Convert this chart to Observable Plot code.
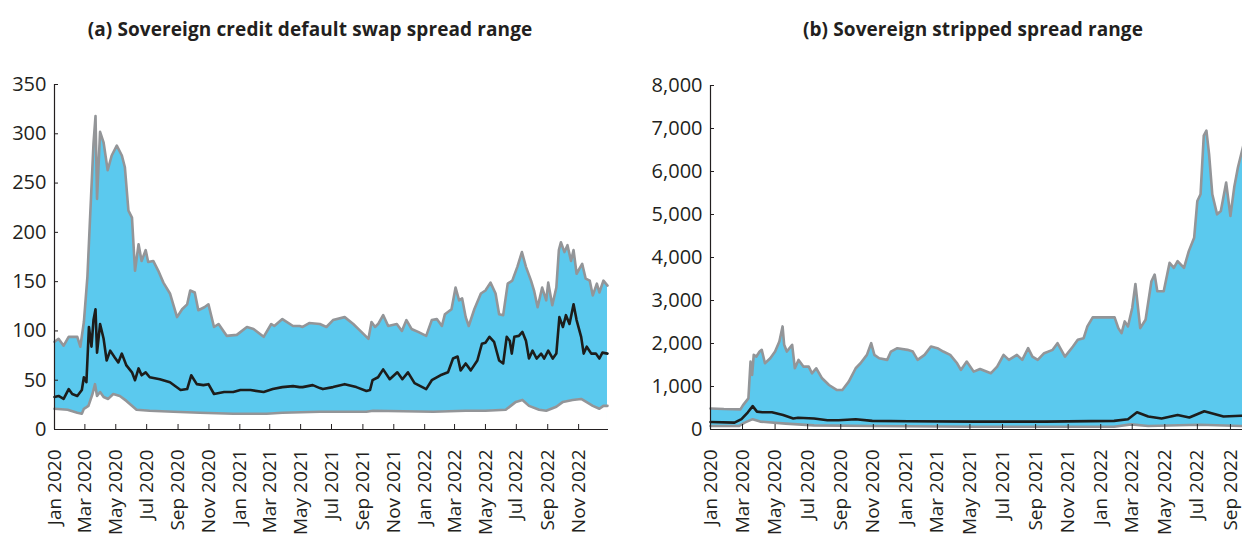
<!DOCTYPE html>
<html><head><meta charset="utf-8">
<script src="https://cdn.jsdelivr.net/npm/d3@7"></script>
<script src="https://cdn.jsdelivr.net/npm/@observablehq/plot@0.6"></script>
<style>
html,body{margin:0;padding:0;background:#fff;}
body{width:1242px;height:535px;overflow:hidden;position:relative;font-family:"Open Sans",sans-serif;}
.title{position:absolute;top:16px;font-weight:700;font-size:19px;color:#231f20;white-space:nowrap;transform:translateX(-50%);letter-spacing:0.1px;}
#a{position:absolute;left:0;top:50px;width:620px;}
#b{position:absolute;left:640px;top:50px;width:664px;}
svg{max-width:none !important;}
</style></head><body>
<div class="title" style="left:310px">(a) Sovereign credit default swap spread range</div>
<div class="title" style="left:973px">(b) Sovereign stripped spread range</div>
<div id="a"></div><div id="b"></div>
<script>
const xTickDates = ["2020-01-01","2020-03-01","2020-05-01","2020-07-01","2020-09-01","2020-11-01",
  "2021-01-01","2021-03-01","2021-05-01","2021-07-01","2021-09-01","2021-11-01",
  "2022-01-01","2022-03-01","2022-05-01","2022-07-01","2022-09-01","2022-11-01"];
const xTickDatesB = xTickDates.slice(0, 17); // panel (b) is cut at the page edge after Sep 2022
const cdsTicks = [0,50,100,150,200,250,300,350];
const strippedTicks = [0,1000,2000,3000,4000,5000,6000,7000,8000];

const cdsMax = [["2020-01-01",89],["2020-01-09",92],["2020-01-19",85],["2020-01-29",94],["2020-02-15",94],["2020-02-21",84],["2020-02-28",109],["2020-03-06",155],["2020-03-11",212],["2020-03-18",290],["2020-03-22",318],["2020-03-25",234],["2020-03-31",302],["2020-04-07",291],["2020-04-15",263],["2020-04-23",278],["2020-05-03",288],["2020-05-13",278],["2020-05-19",266],["2020-05-26",222],["2020-06-02",215],["2020-06-08",161],["2020-06-15",188],["2020-06-21",171],["2020-06-29",182],["2020-07-04",170],["2020-07-14",171],["2020-07-24",161],["2020-08-03",149],["2020-08-16",138],["2020-08-30",114],["2020-09-09",122],["2020-09-19",127],["2020-09-25",141],["2020-10-04",139],["2020-10-11",121],["2020-10-23",124],["2020-10-31",127],["2020-11-11",104],["2020-11-20",107],["2020-12-06",95],["2020-12-26",96],["2021-01-15",104],["2021-01-28",102],["2021-02-17",94],["2021-03-04",107],["2021-03-10",105],["2021-03-26",112],["2021-04-16",105],["2021-04-29",105],["2021-05-05",104],["2021-05-18",108],["2021-06-08",107],["2021-06-21",104],["2021-07-04",111],["2021-07-27",114],["2021-08-13",107],["2021-08-29",99],["2021-09-12",92],["2021-09-18",109],["2021-09-25",104],["2021-10-01",107],["2021-10-11",116],["2021-10-21",105],["2021-11-07",107],["2021-11-17",100],["2021-11-26",111],["2021-12-06",102],["2021-12-19",99],["2022-01-04",95],["2022-01-15",111],["2022-01-25",112],["2022-02-04",105],["2022-02-10",117],["2022-02-23",122],["2022-03-03",144],["2022-03-10",131],["2022-03-16",133],["2022-03-23",114],["2022-03-29",105],["2022-04-09",122],["2022-04-22",138],["2022-05-01",141],["2022-05-11",149],["2022-05-21",138],["2022-05-28",117],["2022-06-05",116],["2022-06-14",148],["2022-06-23",151],["2022-07-03",165],["2022-07-12",180],["2022-07-20",165],["2022-07-30",151],["2022-08-05",141],["2022-08-12",124],["2022-08-21",144],["2022-08-29",131],["2022-09-02",149],["2022-09-10",126],["2022-09-18",144],["2022-09-23",182],["2022-09-27",190],["2022-10-04",180],["2022-10-10",187],["2022-10-17",171],["2022-10-22",182],["2022-10-28",158],["2022-11-08",168],["2022-11-15",153],["2022-11-23",151],["2022-11-29",136],["2022-12-07",148],["2022-12-12",139],["2022-12-20",151],["2022-12-28",146]];

const cdsMedian = [["2020-01-01",33],["2020-01-09",34],["2020-01-19",31],["2020-01-29",41],["2020-02-05",36],["2020-02-15",34],["2020-02-24",40],["2020-02-28",53],["2020-03-04",48],["2020-03-09",104],["2020-03-14",84],["2020-03-18",111],["2020-03-22",122],["2020-03-25",78],["2020-03-31",107],["2020-04-07",92],["2020-04-13",70],["2020-04-20",80],["2020-04-29",73],["2020-05-06",68],["2020-05-13",77],["2020-05-22",65],["2020-06-02",58],["2020-06-08",50],["2020-06-15",62],["2020-06-21",55],["2020-06-29",58],["2020-07-07",53],["2020-07-27",51],["2020-08-16",48],["2020-09-06",40],["2020-09-19",41],["2020-09-27",55],["2020-10-08",46],["2020-10-21",45],["2020-10-31",46],["2020-11-11",36],["2020-12-01",38],["2020-12-19",38],["2021-01-02",40],["2021-01-22",40],["2021-02-17",38],["2021-03-07",41],["2021-03-26",43],["2021-04-16",44],["2021-04-29",43],["2021-05-05",43],["2021-05-25",45],["2021-06-08",42],["2021-06-14",41],["2021-07-04",43],["2021-07-27",46],["2021-08-19",43],["2021-09-08",39],["2021-09-15",40],["2021-09-20",50],["2021-10-01",53],["2021-10-11",61],["2021-10-24",51],["2021-11-08",58],["2021-11-18",51],["2021-11-29",58],["2021-12-12",47],["2022-01-04",41],["2022-01-15",50],["2022-02-01",55],["2022-02-16",58],["2022-02-26",72],["2022-03-07",74],["2022-03-13",60],["2022-03-23",67],["2022-04-02",60],["2022-04-15",70],["2022-04-24",87],["2022-05-01",88],["2022-05-09",94],["2022-05-18",89],["2022-05-28",70],["2022-06-05",67],["2022-06-12",94],["2022-06-18",90],["2022-06-22",77],["2022-06-27",94],["2022-07-06",95],["2022-07-13",99],["2022-07-20",90],["2022-07-26",72],["2022-08-02",80],["2022-08-10",72],["2022-08-19",77],["2022-08-25",72],["2022-09-02",80],["2022-09-11",72],["2022-09-18",77],["2022-09-24",114],["2022-10-01",104],["2022-10-07",116],["2022-10-14",107],["2022-10-22",127],["2022-10-28",111],["2022-11-06",94],["2022-11-11",77],["2022-11-17",84],["2022-11-26",77],["2022-12-05",77],["2022-12-12",72],["2022-12-18",78],["2022-12-28",77]];

const cdsMin = [["2020-01-01",21],["2020-01-27",20],["2020-02-15",17],["2020-02-24",16],["2020-02-28",21],["2020-03-08",24],["2020-03-16",36],["2020-03-21",46],["2020-03-25",34],["2020-03-31",38],["2020-04-07",33],["2020-04-16",31],["2020-04-26",36],["2020-05-09",34],["2020-05-22",29],["2020-06-11",20],["2020-07-07",19],["2020-08-23",18],["2020-10-14",17],["2020-12-19",16],["2021-02-23",16],["2021-03-26",17],["2021-06-08",18],["2021-09-08",18],["2021-09-21",19],["2022-01-18",18],["2022-03-23",19],["2022-05-01",19],["2022-06-10",20],["2022-06-30",28],["2022-07-13",30],["2022-07-26",24],["2022-08-15",20],["2022-08-29",19],["2022-09-18",23],["2022-10-01",28],["2022-10-20",30],["2022-11-06",31],["2022-11-16",28],["2022-11-29",24],["2022-12-12",21],["2022-12-20",24],["2022-12-28",24]];

const strippedMax = [["2020-01-01",490],["2020-01-26",475],["2020-02-26",467],["2020-03-02",568],["2020-03-12",724],["2020-03-16",1580],["2020-03-19",1268],["2020-03-22",1735],["2020-03-27",1696],["2020-04-02",1813],["2020-04-06",1852],["2020-04-12",1541],["2020-04-22",1658],["2020-05-01",1813],["2020-05-09",2047],["2020-05-15",2397],["2020-05-18",1969],["2020-05-23",1813],["2020-06-02",1969],["2020-06-07",1424],["2020-06-14",1619],["2020-06-23",1463],["2020-07-03",1463],["2020-07-09",1307],["2020-07-17",1424],["2020-07-28",1191],["2020-08-10",1035],["2020-08-25",918],["2020-09-04",918],["2020-09-16",1113],["2020-09-29",1424],["2020-10-08",1541],["2020-10-20",1735],["2020-10-28",2008],["2020-11-03",1735],["2020-11-12",1658],["2020-11-27",1619],["2020-12-04",1813],["2020-12-16",1891],["2021-01-04",1852],["2021-01-14",1813],["2021-01-23",1619],["2021-02-05",1735],["2021-02-17",1930],["2021-03-01",1891],["2021-03-12",1813],["2021-03-25",1735],["2021-04-07",1540],["2021-04-14",1385],["2021-04-25",1580],["2021-05-08",1346],["2021-05-20",1408],["2021-06-09",1307],["2021-06-21",1463],["2021-07-03",1735],["2021-07-13",1619],["2021-07-28",1735],["2021-08-07",1619],["2021-08-18",1891],["2021-08-26",1696],["2021-09-05",1619],["2021-09-17",1774],["2021-10-03",1852],["2021-10-12",2008],["2021-10-26",1696],["2021-11-10",1930],["2021-11-19",2086],["2021-11-30",2124],["2021-12-07",2397],["2021-12-17",2607],["2022-01-09",2607],["2022-01-27",2607],["2022-02-03",2358],["2022-02-09",2241],["2022-02-15",2514],["2022-02-21",2397],["2022-03-01",2825],["2022-03-07",3385],["2022-03-16",2358],["2022-03-26",2553],["2022-04-06",3447],["2022-04-12",3603],["2022-04-17",3214],["2022-04-29",3214],["2022-05-10",3875],["2022-05-18",3759],["2022-05-25",3914],["2022-06-06",3759],["2022-06-15",4148],["2022-06-25",4459],["2022-07-01",5315],["2022-07-07",5471],["2022-07-13",6832],["2022-07-18",6949],["2022-07-23",6405],["2022-07-29",5471],["2022-08-07",5004],["2022-08-14",5082],["2022-08-24",5743],["2022-09-01",4965],["2022-09-08",5626],["2022-09-15",6093],["2022-09-25",6599],["2022-10-05",6600]];

const strippedMedian = [["2020-01-01",176],["2020-02-15",160],["2020-02-28",240],["2020-03-11",400],["2020-03-20",544],["2020-03-28",416],["2020-04-07",400],["2020-04-25",400],["2020-05-16",336],["2020-06-04",256],["2020-06-13",272],["2020-07-13",256],["2020-08-07",216],["2020-08-28",216],["2020-09-29",240],["2020-10-30",200],["2021-01-05",192],["2021-05-11",184],["2021-09-18",184],["2022-01-26",200],["2022-02-21",240],["2022-03-10",400],["2022-03-31",304],["2022-04-25",256],["2022-05-25",336],["2022-06-16",280],["2022-07-14",424],["2022-08-19",304],["2022-09-21",320],["2022-10-05",320]];

const strippedMin = [["2020-01-01",80],["2020-02-23",80],["2020-03-05",160],["2020-03-20",240],["2020-04-03",184],["2020-05-21",136],["2020-07-13",96],["2020-10-30",80],["2021-05-11",64],["2022-01-26",64],["2022-02-27",120],["2022-03-31",80],["2022-07-05",112],["2022-09-21",80],["2022-10-05",80]];

const BLUE = "#5bc9ee", GRAY = "#939598", BLACK = "#1d1d1b", AXIS = "#231f20";
const xDomain = [new Date("2020-01-01"), new Date("2022-12-30")];

function panel({upper, median, lower, yDomain, yTicks, yFormat, xTicks, width, marginLeft, marginRight, marginTop}) {
  const parse = d => ({date: new Date(d[0]), value: d[1]});
  const U = upper.map(parse), M = median.map(parse), L = lower.map(parse);
  const ticks = xTicks.map(d => new Date(d));
  return Plot.plot({
    width, height: 485, marginTop, marginBottom: 106, marginLeft, marginRight,
    style: {fontFamily: '"Open Sans", sans-serif', fontSize: "20px", color: AXIS, background: "transparent", overflow: "visible", maxWidth: "none"},
    x: {type: "utc", domain: xDomain, label: null},
    y: {domain: yDomain, label: null},
    marks: [
      Plot.areaY(U, {x: "date", y: "value", fill: BLUE}),
      Plot.areaY(L, {x: "date", y: "value", fill: "white"}),
      Plot.lineY(U, {x: "date", y: "value", stroke: GRAY, strokeWidth: 2.6}),
      Plot.lineY(L, {x: "date", y: "value", stroke: GRAY, strokeWidth: 2.6}),
      Plot.lineY(M, {x: "date", y: "value", stroke: BLACK, strokeWidth: 2.6}),
      Plot.ruleX([xDomain[0]], {stroke: AXIS, strokeWidth: 1.2}),
      Plot.ruleY([0], {stroke: AXIS, strokeWidth: 1.2}),
      Plot.axisY({ticks: yTicks, tickSize: -4, tickPadding: 12, tickFormat: yFormat, fontSize: 20, stroke: AXIS, label: null}),
      Plot.axisX({ticks, tickSize: -5, tickPadding: 25, tickRotate: -90, textAnchor: "end", tickFormat: d3.utcFormat("%b %Y"), fontSize: 19, stroke: AXIS, label: null})
    ]
  });
}

document.getElementById("a").append(panel({
  upper: cdsMax, median: cdsMedian, lower: cdsMin,
  yDomain: [0, 350], yTicks: cdsTicks, yFormat: d3.format("d"), xTicks: xTickDates,
  width: 620, marginLeft: 54, marginRight: 12, marginTop: 34
}));
document.getElementById("b").append(panel({
  upper: strippedMax, median: strippedMedian, lower: strippedMin,
  yDomain: [0, 8000], yTicks: strippedTicks, yFormat: d3.format(","), xTicks: xTickDatesB,
  width: 664, marginLeft: 70, marginRight: 10, marginTop: 35
}));
</script>
</body></html>
